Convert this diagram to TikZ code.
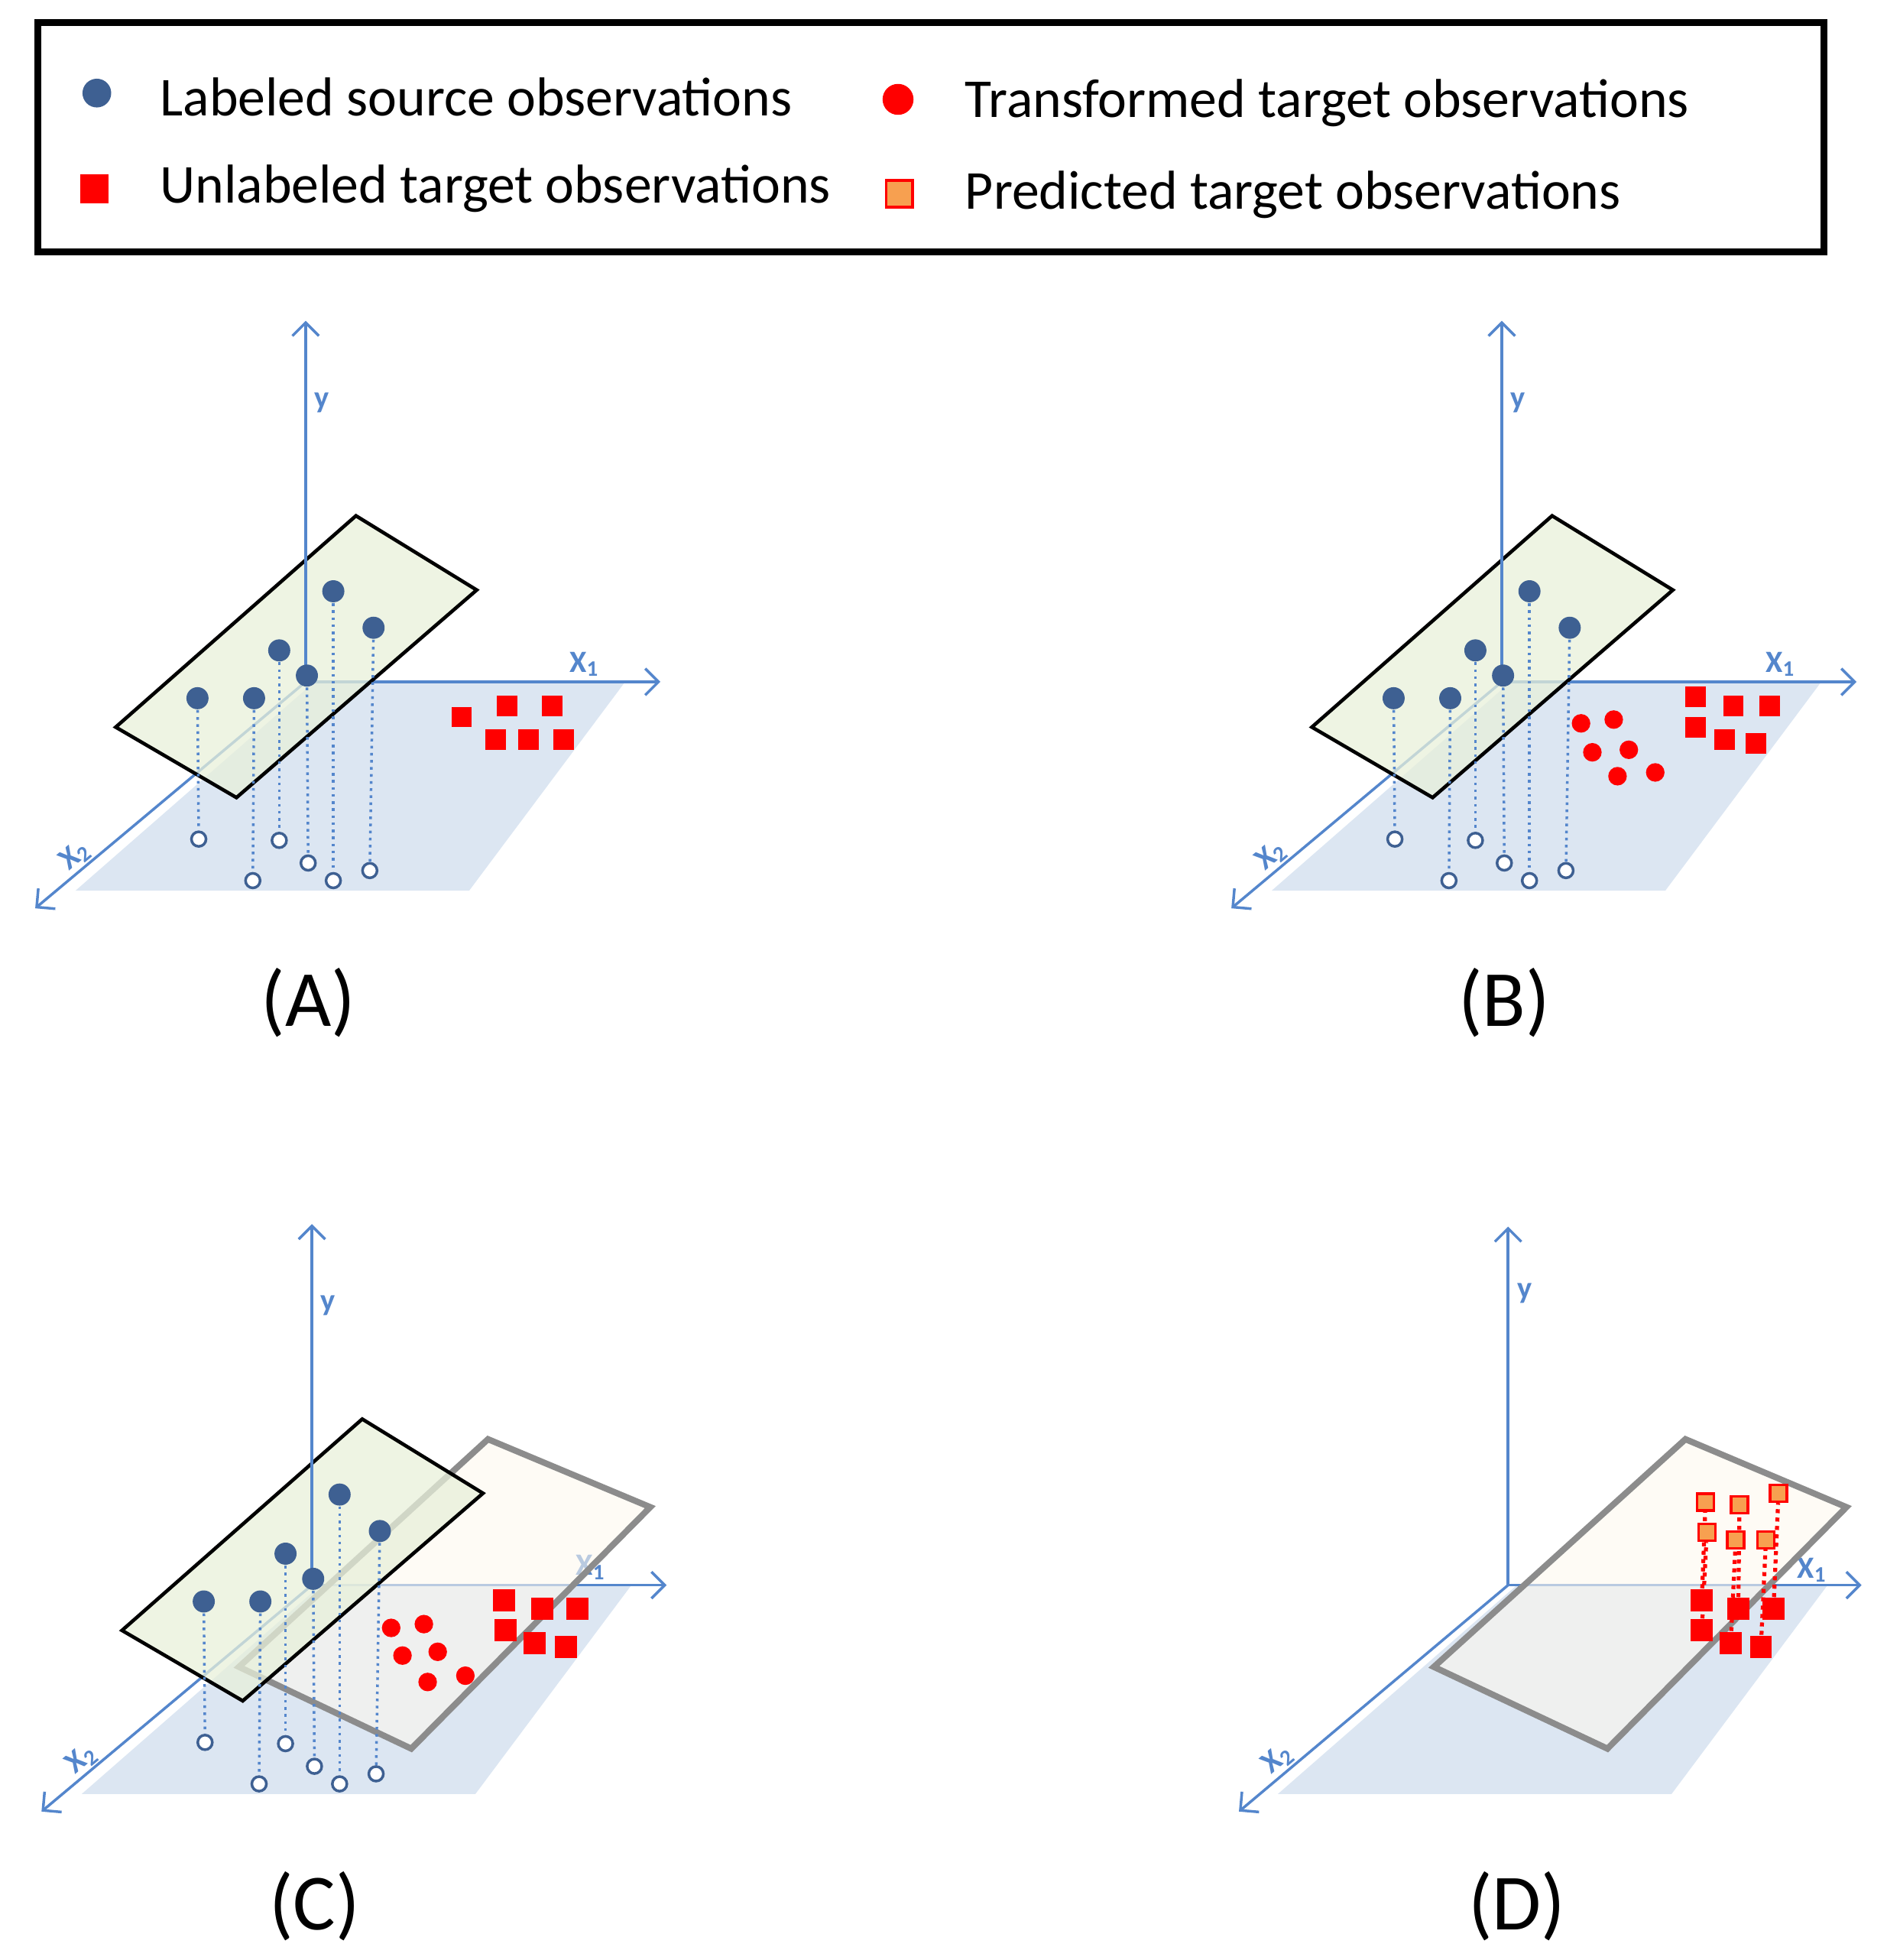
\documentclass[tikz,border=0pt]{standalone}
\usepackage{fontspec}
\setmainfont{Carlito}
\usetikzlibrary{arrows.meta}
\definecolor{axisblue}{RGB}{84,134,204}
\definecolor{floorblue}{RGB}{220,230,242}
\definecolor{planegreen}{RGB}{232,240,218}
\definecolor{planecream}{RGB}{253,248,238}
\definecolor{dotblue}{RGB}{62,96,146}
\definecolor{predorange}{RGB}{247,160,80}

\tikzset{
  axis/.style={draw=axisblue, line width=0.6pt, -{Straight Barb[length=3pt,width=6pt]}},
  floor/.style={fill=floorblue, draw=none},
  gplane/.style={fill=planegreen, fill opacity=0.75, draw=black, line width=0.8pt},
  cplane/.style={fill=planecream, fill opacity=0.6, draw=gray!90, line width=1.4pt},
  src/.style={circle, fill=dotblue, inner sep=0pt, minimum size=5pt},
  proj/.style={circle, draw=dotblue, line width=0.6pt, fill=white, inner sep=0pt, minimum size=3.3pt},
  drop/.style={draw=axisblue, densely dotted, line width=0.6pt},
  tgt/.style={rectangle, fill=red, inner sep=0pt, minimum size=4.6pt},
  trf/.style={circle, fill=red, inner sep=0pt, minimum size=4.2pt},
  pred/.style={rectangle, fill=predorange, draw=red, line width=0.6pt, inner sep=0pt, minimum size=3.8pt},
  rdrop/.style={draw=red, densely dotted, line width=0.9pt},
  axlab/.style={text=axisblue, font=\bfseries\scriptsize},
  caption/.style={font=\fontsize{18}{21}\selectfont},
  legtext/.style={anchor=west, font=\fontsize{12.4}{15}\selectfont}
}

\begin{document}
\begin{tikzpicture}[x=0.1mm, y=-0.1mm]
  \useasboundingbox (0,0) rectangle (1500,1558);

  % legend
  \draw[line width=1.6pt] (30,18) rectangle (1450,200);
  \node[src, minimum size=6.5pt] (kS) at (77,74) {};
  \node[legtext] (kSt) at (115,77) {Labeled source observations};
  \node[tgt, minimum size=6.5pt] (kT) at (75,150) {};
  \node[legtext] (kTt) at (115,150) {Unlabeled target observations};
  \node[trf, minimum size=7pt] (kR) at (714,79) {};
  \node[legtext] (kRt) at (755,82) {Transformed target observations};
  \node[pred, minimum size=6pt] (kP) at (715,154) {};
  \node[legtext] (kPt) at (755,155) {Predicted target observations};

  % panels A, B, C
  \foreach \dx/\dy/\tag in {0/0/A, 951/0/B, 5/718/C} {
    \begin{scope}[shift={(\dx,\dy)}]
      \coordinate (o) at (243,542);
      \fill[floor] (250,542) -- (497,542) -- (373,708) -- (60,708) -- cycle;
      \draw[axis] (o) -- (525,542);
      \draw[axis] (o) -- (28,722);
      \node[axlab] (x1) at (465,528) {X\textsubscript{1}};
      \node[axlab, rotate=40] (x2) at (60,680) {X\textsubscript{2}};
      \node[axlab] (yl) at (256,320) {y};
      \node[caption] (cap) at (245,797) {(\tag)};
    \end{scope}
  }

  % panel D floor and axes
  \begin{scope}[shift={(956,718)}]
    \fill[floor] (250,542) -- (497,542) -- (373,708) -- (60,708) -- cycle;
    \draw[axis] (243,542) -- (524,542);
    \draw[axis] (243,542) -- (29,722);
    \node[axlab] (x1D) at (485,530) {X\textsubscript{1}};
    \node[axlab, rotate=40] (x2D) at (60,680) {X\textsubscript{2}};
    \node[axlab] (yD) at (256,310) {y};
    \node[caption] (capD) at (250,797) {(D)};
  \end{scope}

  % cream planes of C and D
  \draw[cplane] (190,1325) -- (388,1144) -- (517,1198) -- (327,1390) -- cycle;
  \draw[cplane] (1140,1325) -- (1340,1144) -- (1468,1198) -- (1278,1390) -- cycle;
  \draw[axis] (1199,1260) -- (1199,975);

  % target squares
  \foreach \x/\y [count=\i] in {367/570, 403/561, 439/561, 394/588, 420/588, 448/588}
    \node[tgt] (a\i) at (\x,\y) {};
  \foreach \x/\y [count=\i] in {1348/554, 1378/561, 1407/561, 1348/578, 1371/588, 1396/591}
    \node[tgt] (b\i) at (\x,\y) {};
  \foreach \x/\y [count=\i] in {401/1272, 431/1279, 459/1279, 402/1296, 425/1306, 450/1309}
    \node[tgt, minimum size=5pt] (c\i) at (\x,\y) {};

  % transformed circles
  \foreach \x/\y [count=\i] in {1257/575, 1283/572, 1266/598, 1295/596, 1286/617, 1316/614}
    \node[trf] (rb\i) at (\x,\y) {};
  \foreach \x/\y [count=\i] in {311/1294, 337/1291, 320/1316, 348/1313, 340/1337, 370/1332}
    \node[trf] (rc\i) at (\x,\y) {};

  % panel D predictions
  \foreach \x/\y/\u/\v [count=\i] in {1353/1272/1356/1194, 1382/1279/1383/1196, 1410/1279/1414/1187,
      1353/1296/1357/1218, 1376/1306/1380/1224, 1400/1309/1404/1224} {
    \node[tgt, minimum size=5pt] (d\i) at (\x,\y) {};
    \node[pred] (p\i) at (\u,\v) {};
    \draw[rdrop] (d\i) -- (p\i);
  }

  % source data and green planes
  \foreach \dx/\dy/\k in {0/0/A, 951/0/B, 5/718/C} {
    \begin{scope}[shift={(\dx,\dy)}]
      \foreach \x/\y/\u/\v [count=\i] in {157/555/158/667, 202/555/201/700, 222/517/222/668,
          244/537/245/686, 265/470/265/700, 297/499/294/692} {
        \node[proj] (q\k\i) at (\u,\v) {};
      }
      \draw[gplane] (92,578) -- (283,410) -- (379,469) -- (188,634) -- cycle;
      \draw[axis] (243,542) -- (243,255);
      \foreach \x/\y/\u/\v [count=\i] in {157/555/158/667, 202/555/201/700, 222/517/222/668,
          244/537/245/686, 265/470/265/700, 297/499/294/692} {
        \node[src] (s\k\i) at (\x,\y) {};
        \draw[drop] (s\k\i) -- (q\k\i);
      }
    \end{scope}
  }
\end{tikzpicture}
\end{document}
